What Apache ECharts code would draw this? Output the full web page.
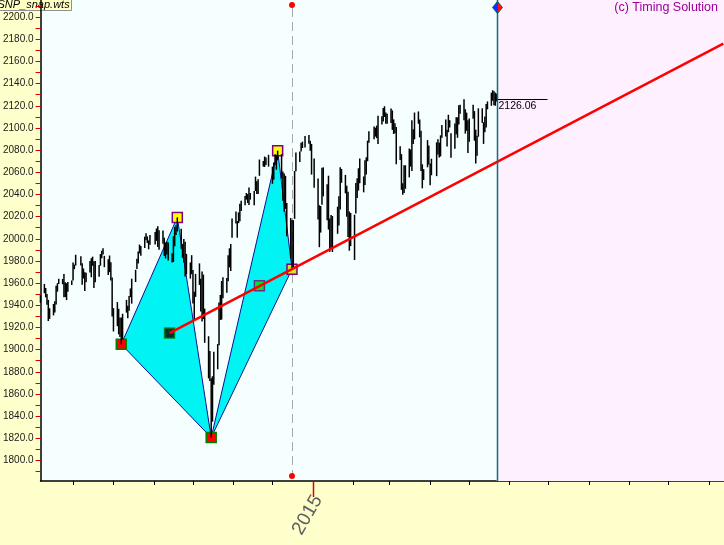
<!DOCTYPE html>
<html><head><meta charset="utf-8">
<script src="https://cdn.jsdelivr.net/npm/echarts@6/dist/echarts.min.js"></script>
<style>html,body{margin:0;padding:0;background:#FFFFCC;}#c{width:724px;height:545px;}</style>
</head><body><div id="c"></div>
<script>
// ---------------- data ----------------
const dates = [
'2014-06-06','2014-06-09','2014-06-10','2014-06-11','2014-06-12','2014-06-13','2014-06-16','2014-06-17','2014-06-18','2014-06-19','2014-06-20','2014-06-23','2014-06-24','2014-06-25','2014-06-26','2014-06-27','2014-06-30',
'2014-07-01','2014-07-02','2014-07-03','2014-07-07','2014-07-08','2014-07-09','2014-07-10','2014-07-11','2014-07-14','2014-07-15','2014-07-16','2014-07-17','2014-07-18','2014-07-21','2014-07-22','2014-07-23','2014-07-24','2014-07-25','2014-07-28','2014-07-29','2014-07-30','2014-07-31',
'2014-08-01','2014-08-04','2014-08-05','2014-08-06','2014-08-07','2014-08-08','2014-08-11','2014-08-12','2014-08-13','2014-08-14','2014-08-15','2014-08-18','2014-08-19','2014-08-20','2014-08-21','2014-08-22','2014-08-25','2014-08-26','2014-08-27','2014-08-28','2014-08-29',
'2014-09-02','2014-09-03','2014-09-04','2014-09-05','2014-09-08','2014-09-09','2014-09-10','2014-09-11','2014-09-12','2014-09-15','2014-09-16','2014-09-17','2014-09-18','2014-09-19','2014-09-22','2014-09-23','2014-09-24','2014-09-25','2014-09-26','2014-09-29','2014-09-30',
'2014-10-01','2014-10-02','2014-10-03','2014-10-06','2014-10-07','2014-10-08','2014-10-09','2014-10-10','2014-10-13','2014-10-14','2014-10-15','2014-10-16','2014-10-17','2014-10-20','2014-10-21','2014-10-22','2014-10-23','2014-10-24','2014-10-27','2014-10-28','2014-10-29','2014-10-30','2014-10-31',
'2014-11-03','2014-11-04','2014-11-05','2014-11-06','2014-11-07','2014-11-10','2014-11-11','2014-11-12','2014-11-13','2014-11-14','2014-11-17','2014-11-18','2014-11-19','2014-11-20','2014-11-21','2014-11-24','2014-11-25','2014-11-26','2014-11-28',
'2014-12-01','2014-12-02','2014-12-03','2014-12-04','2014-12-05','2014-12-08','2014-12-09','2014-12-10','2014-12-11','2014-12-12','2014-12-15','2014-12-16','2014-12-17','2014-12-18','2014-12-19','2014-12-22','2014-12-23','2014-12-24','2014-12-26','2014-12-29','2014-12-30','2014-12-31',
'2015-01-02','2015-01-05','2015-01-06','2015-01-07','2015-01-08','2015-01-09','2015-01-12','2015-01-13','2015-01-14','2015-01-15','2015-01-16','2015-01-20','2015-01-21','2015-01-22','2015-01-23','2015-01-26','2015-01-27','2015-01-28','2015-01-29','2015-01-30',
'2015-02-02','2015-02-03','2015-02-04','2015-02-05','2015-02-06','2015-02-09','2015-02-10','2015-02-11','2015-02-12','2015-02-13','2015-02-17','2015-02-18','2015-02-19','2015-02-20','2015-02-23','2015-02-24','2015-02-25','2015-02-26','2015-02-27',
'2015-03-02','2015-03-03','2015-03-04','2015-03-05','2015-03-06','2015-03-09','2015-03-10','2015-03-11','2015-03-12','2015-03-13','2015-03-16','2015-03-17','2015-03-18','2015-03-19','2015-03-20','2015-03-23','2015-03-24','2015-03-25','2015-03-26','2015-03-27','2015-03-30','2015-03-31',
'2015-04-01','2015-04-02','2015-04-06','2015-04-07','2015-04-08','2015-04-09','2015-04-10','2015-04-13','2015-04-14','2015-04-15','2015-04-16','2015-04-17','2015-04-20','2015-04-21','2015-04-22','2015-04-23','2015-04-24','2015-04-27','2015-04-28','2015-04-29','2015-04-30',
'2015-05-01','2015-05-04','2015-05-05','2015-05-06','2015-05-07','2015-05-08','2015-05-11','2015-05-12','2015-05-13','2015-05-14','2015-05-15','2015-05-18','2015-05-19','2015-05-20','2015-05-21','2015-05-22'
];
const highs = [
1949.4,1959.3,1955.6,1950.2,1944.9,1937.3,1941.2,1943.7,1957.7,1959.9,1963.9,1963.7,1968.2,1960.8,1959.9,1961.0,1962.3,
1978.6,1976.7,1985.6,1984.2,1977.9,1973.2,1969.8,1969.4,1979.9,1982.5,1983.9,1979.8,1979.9,1976.4,1986.2,1989.2,1991.4,1984.6,1981.5,1984.9,1978.9,1965.1,
1937.4,1942.9,1936.9,1928.9,1928.9,1932.4,1944.9,1939.7,1948.3,1955.2,1964.0,1972.0,1982.0,1988.6,1994.8,1993.5,2001.9,2005.0,2002.1,1998.5,2003.4,
2006.1,2009.3,2011.2,2007.7,2007.5,2001.0,1996.7,1997.4,1996.7,1987.0,2002.3,2010.7,2012.3,2019.3,2009.1,1995.4,1999.8,1997.3,1986.4,1978.6,1985.2,
1971.9,1952.3,1968.3,1977.8,1964.0,1970.4,1967.7,1937.0,1912.1,1898.7,1874.1,1876.0,1898.2,1905.0,1942.5,1949.3,1961.9,1965.3,1964.6,1985.1,1991.4,1995.3,2018.2,
2024.5,2016.0,2023.8,2031.6,2034.3,2038.7,2041.3,2040.3,2046.2,2041.3,2043.1,2056.1,2051.8,2053.8,2071.5,2070.2,2074.2,2073.4,2075.8,
2065.1,2068.8,2076.3,2075.8,2079.5,2076.3,2060.6,2058.9,2056.8,2032.2,2018.7,2016.9,2016.8,2061.2,2077.9,2078.8,2086.7,2087.6,2092.7,2093.6,2088.5,2085.6,
2072.4,2054.4,2030.3,2029.6,2064.1,2064.4,2049.3,2056.9,2018.4,2021.4,2020.5,2028.9,2038.3,2064.6,2063.0,2057.6,2047.9,2042.5,2024.6,2023.3,
2021.7,2050.3,2054.7,2063.6,2072.4,2056.2,2070.9,2073.5,2088.5,2097.0,2101.3,2100.2,2102.1,2111.0,2110.6,2117.9,2119.6,2113.9,2112.7,
2117.5,2115.8,2107.7,2104.2,2100.9,2083.5,2076.4,2050.1,2066.4,2066.3,2081.4,2080.6,2106.9,2098.7,2113.9,2114.9,2107.6,2097.4,2067.2,2062.8,2089.0,2084.1,
2067.9,2072.2,2087.0,2089.8,2086.7,2093.3,2102.6,2107.7,2098.3,2111.9,2107.0,2095.1,2103.9,2109.6,2109.6,2120.5,2120.9,2125.9,2116.9,2113.8,2106.9,
2108.4,2120.9,2115.2,2098.4,2092.9,2117.7,2117.7,2105.1,2110.2,2121.5,2123.9,2131.8,2134.0,2133.0,2131.8,2130.9
];
const lows = [
1942.4,1950.9,1947.2,1940.6,1925.8,1927.7,1930.9,1933.6,1940.7,1952.3,1959.2,1959.0,1947.2,1947.5,1944.7,1952.3,1958.3,
1962.3,1972.6,1975.9,1975.8,1958.6,1964.2,1952.9,1960.8,1969.6,1965.3,1975.7,1955.6,1960.8,1965.8,1975.7,1982.4,1985.8,1974.4,1967.3,1969.9,1962.4,1930.0,
1916.4,1921.2,1913.8,1911.5,1904.8,1909.0,1933.4,1928.3,1935.0,1947.4,1941.5,1961.0,1972.7,1977.7,1986.8,1984.8,1991.7,1998.6,1996.2,1990.5,1994.7,
1994.9,1998.1,1992.5,1990.1,1995.6,1984.6,1982.3,1985.9,1980.3,1978.5,1979.1,1993.3,2003.4,2006.6,1991.0,1982.8,1978.6,1966.0,1968.0,1964.1,1968.0,
1941.7,1926.0,1947.6,1958.4,1934.5,1925.3,1927.6,1906.1,1874.1,1871.8,1820.7,1835.0,1868.4,1882.3,1904.0,1926.8,1927.1,1946.3,1951.4,1961.6,1974.2,1970.9,2001.0,
2013.7,2001.0,2014.1,2015.9,2025.1,2030.2,2035.3,2032.3,2030.4,2035.3,2030.2,2043.1,2040.4,2040.5,2056.8,2065.1,2064.8,2066.6,2065.1,
2049.6,2053.4,2066.6,2062.3,2070.8,2054.3,2034.2,2024.3,2027.0,2002.3,1982.3,1972.6,1974.1,2018.0,2061.0,2069.3,2078.8,2081.9,2082.3,2085.8,2079.5,2057.9,
2046.0,2017.3,1992.4,2005.6,2030.6,2038.3,2016.7,2008.3,1988.4,1991.5,1988.1,2004.5,2012.0,2026.4,2050.5,2041.0,2019.9,2001.5,1989.2,1993.4,
1980.9,2022.7,2036.7,2043.5,2050.0,2041.9,2048.6,2058.0,2070.0,2086.7,2089.8,2092.2,2090.8,2085.4,2103.0,2105.9,2109.9,2103.8,2103.8,
2104.5,2098.3,2094.5,2095.2,2067.3,2071.1,2044.2,2039.7,2041.2,2045.1,2055.4,2065.1,2061.2,2085.6,2089.7,2103.8,2091.5,2061.1,2045.5,2053.0,2064.5,2067.0,
2048.4,2057.3,2056.5,2076.1,2073.3,2074.3,2091.1,2092.3,2083.2,2096.1,2100.4,2073.0,2081.2,2094.4,2091.1,2103.2,2112.9,2107.0,2094.9,2097.4,2077.3,
2087.6,2108.3,2088.5,2067.9,2075.0,2092.1,2104.6,2085.6,2096.0,2100.4,2116.8,2120.0,2124.5,2120.5,2120.0,2123.8
];
const pivotDates  = ['2014-08-07','2014-09-19','2014-10-15','2014-12-05','2014-12-16'];
const pivotValues = [1904.8, 2019.3, 1820.7, 2079.5, 1972.6];
const triangles = [[0,1,2],[2,3,4]];
const centroidDates  = ['2014-09-13','2014-11-21'];
const centroidValues = [1914.9, 1957.6];
const trendDates  = ['2014-09-13','2015-11-12'];
const trendValues = [1914.9, 2176.0];
const lastDate = '2015-05-22';
const lastClose = 2126.06;
const cycleDate = '2014-12-16';
const monthTicks = ['2014-07-01','2014-08-01','2014-09-01','2014-10-01','2014-11-01','2014-12-01','2015-01-01','2015-02-01','2015-03-01','2015-04-01','2015-05-01','2015-06-01','2015-07-01','2015-08-01','2015-09-01','2015-10-01','2015-11-01'];
const yearTickDate = '2015-01-01';
const yearTickLabel = '2015';
const yLabelValues = [1800,1820,1840,1860,1880,1900,1920,1940,1960,1980,2000,2020,2040,2060,2080,2100,2120,2140,2160,2180,2200];
const yTickValues = [1790,1800,1810,1820,1830,1840,1850,1860,1870,1880,1890,1900,1910,1920,1930,1940,1950,1960,1970,1980,1990,2000,2010,2020,2030,2040,2050,2060,2070,2080,2090,2100,2110,2120,2130,2140,2150,2160,2170,2180,2190,2200,2210];
const X_MIN = Date.UTC(2014,5,6,2);
const X_MAX = Date.UTC(2015,10,12,12);
const Y_MIN = 1781.5, Y_MAX = 2215.4;

// ---------------- chart ----------------
const T = s => new Date(s + 'T00:00:00Z').getTime();
const FONT = 'Liberation Sans, Arial, sans-serif';
const chart = echarts.init(document.getElementById('c'), null, {renderer:'canvas'});

const pivotPt = i => [T(pivotDates[i]), pivotValues[i]];

function bgRender(params, api) {
  const cs = params.coordSys;
  const xl = api.coord([T(lastDate), Y_MIN])[0];
  const xc = api.coord([T(cycleDate), Y_MIN])[0];
  return {type:'group', children:[
    {type:'rect', shape:{x:xl, y:cs.y, width:cs.x+cs.width-xl, height:cs.height}, style:{fill:'#FFF0FF'}},
    {type:'line', shape:{x1:Math.round(xc)+0.5, y1:8, x2:Math.round(xc)+0.5, y2:cs.y+cs.height-5}, style:{stroke:'#A8A8A8', lineWidth:1, lineDash:[9,5]}}
  ]};
}

function fgRender(params, api) {
  const cs = params.coordSys;
  const bottom = cs.y + cs.height;
  const xl = Math.round(api.coord([T(lastDate), Y_MIN])[0]) + 0.5;
  const yl = Math.round(api.coord([T(lastDate), lastClose])[1]) + 0.5;
  const xc = api.coord([T(cycleDate), Y_MIN])[0];
  const xy = Math.round(api.coord([T(yearTickDate), Y_MIN])[0]) + 0.5;
  return {type:'group', children:[
    {type:'line', shape:{x1:xl, y1:cs.y, x2:xl, y2:bottom}, style:{stroke:'#007878', lineWidth:1.5}},
    {type:'polygon', shape:{points:[[xl,1.5],[xl-5,7.5],[xl,13.5]]}, style:{fill:'#1030FF', stroke:'#006060', lineWidth:1}},
    {type:'polygon', shape:{points:[[xl,1.5],[xl+5,7.5],[xl,13.5]]}, style:{fill:'#FF1010', stroke:'#006060', lineWidth:1}},
    {type:'line', shape:{x1:xl, y1:yl, x2:xl+50, y2:yl}, style:{stroke:'#000', lineWidth:1}},
    {type:'text', x:xl+1, y:yl+1.5, style:{text:lastClose.toFixed(2), fill:'#000', font:'10.5px ' + FONT, textAlign:'left', textVerticalAlign:'top'}},
    {type:'circle', shape:{cx:xc, cy:5, r:3}, style:{fill:'#FF0000'}},
    {type:'circle', shape:{cx:xc, cy:bottom-5, r:3}, style:{fill:'#FF0000'}},
    {type:'line', shape:{x1:xy, y1:bottom, x2:xy, y2:bottom+16}, style:{stroke:'#E00000', lineWidth:1.5}},
    {type:'text', x:xy-6, y:bottom+34, rotation:Math.PI/3, style:{text:yearTickLabel, fill:'#606060', font:'19px ' + FONT, textAlign:'center', textVerticalAlign:'middle'}}
  ]};
}

function triRender(params, api) {
  const tri = triangles[params.dataIndex];
  const pts = tri.map(i => api.coord(pivotPt(i)));
  return {type:'polygon', shape:{points:pts}, style:{fill:'#00F4F4', stroke:'#101090', lineWidth:1}};
}

function barRender(params, api) {
  const t = api.value(0);
  const p1 = api.coord([t, api.value(1)]);
  const p2 = api.coord([t, api.value(2)]);
  return {type:'line', shape:{x1:p1[0], y1:p1[1], x2:p2[0], y2:p2[1]}, style:{stroke:'#000', lineWidth:1.5}};
}

const markerSeries = (idx, fill, border) => ({
  type:'scatter', z:4, symbol:'rect', symbolSize:10,
  data: idx.map(i => pivotPt(i)),
  itemStyle:{color:fill, borderColor:border, borderWidth:1.5, opacity:1},
  silent:true
});

const option = {
  backgroundColor:'#FFFFCC',
  animation:false,
  title:{text:'(c) Timing Solution', right:6, top:1, padding:0,
    textStyle:{color:'#990099', fontSize:12.5, fontWeight:'normal', fontFamily:FONT}},
  graphic:[{type:'group', left:-4, top:-1, z:100, children:[
    {type:'rect', shape:{x:0, y:0, width:75, height:11}, style:{fill:'#FFFFC4', stroke:'#909090', lineWidth:1}},
    {type:'text', x:1, y:5.5, style:{text:'SNP_snap.wts', fill:'#000', font:'italic 11px ' + FONT, textVerticalAlign:'middle'}}
  ]}],
  grid:{left:40, right:0, top:0, bottom:64, show:true, backgroundColor:'#F5FFFF', borderWidth:0},
  xAxis:{type:'time', min:X_MIN, max:X_MAX,
    axisLine:{show:true, onZero:false, lineStyle:{color:'#000', width:1.5}},
    axisTick:{show:true, customValues:monthTicks.map(T), length:4, lineStyle:{color:'#000', width:1}},
    axisLabel:{show:false}, splitLine:{show:false}, minorTick:{show:false}},
  yAxis:{type:'value', min:Y_MIN, max:Y_MAX,
    axisLine:{show:true, lineStyle:{color:'#000', width:1.5}},
    axisTick:{show:true, customValues:yTickValues, length:5, lineStyle:{color:'#D00000', width:1}},
    axisLabel:{show:true, customValues:yLabelValues, formatter:v => Number(v).toFixed(1), color:'#1a1a1a', fontSize:10, fontFamily:FONT, margin:7},
    splitLine:{show:false}},
  series:[
    {type:'custom', z:1, silent:true, clip:false, renderItem:bgRender, data:[[T(lastDate), lastClose]]},
    {type:'custom', z:2, silent:true, renderItem:triRender, data:triangles.map((t,i) => [T(pivotDates[t[0]]), pivotValues[t[0]]])},
    markerSeries([0,2], '#FF0000', '#008000'),
    markerSeries([1,3], '#FFFF00', '#800080'),
    markerSeries([4], '#C8E820', '#800080'),
    {type:'scatter', z:4, symbol:'rect', symbolSize:10, silent:true,
      data:[[T(centroidDates[0]), centroidValues[0]]],
      itemStyle:{color:'#000', borderColor:'#008000', borderWidth:1.5}},
    {type:'scatter', z:4, symbol:'rect', symbolSize:10, silent:true,
      data:[[T(centroidDates[1]), centroidValues[1]]],
      itemStyle:{color:'#00E000', borderColor:'#800080', borderWidth:1.5}},
    {type:'custom', z:5, silent:true, renderItem:barRender, encode:{x:0, y:[1,2]},
      data:dates.map((d,i) => [T(d), lows[i], highs[i]])},
    {type:'line', z:6, silent:true, symbol:'none', clip:true,
      data:trendDates.map((d,i) => [T(d), trendValues[i]]),
      lineStyle:{color:'#FF0000', width:2.5}},
    {type:'custom', z:7, silent:true, clip:false, renderItem:fgRender, data:[[T(lastDate), lastClose]]}
  ]
};
chart.setOption(option);
</script></body></html>
